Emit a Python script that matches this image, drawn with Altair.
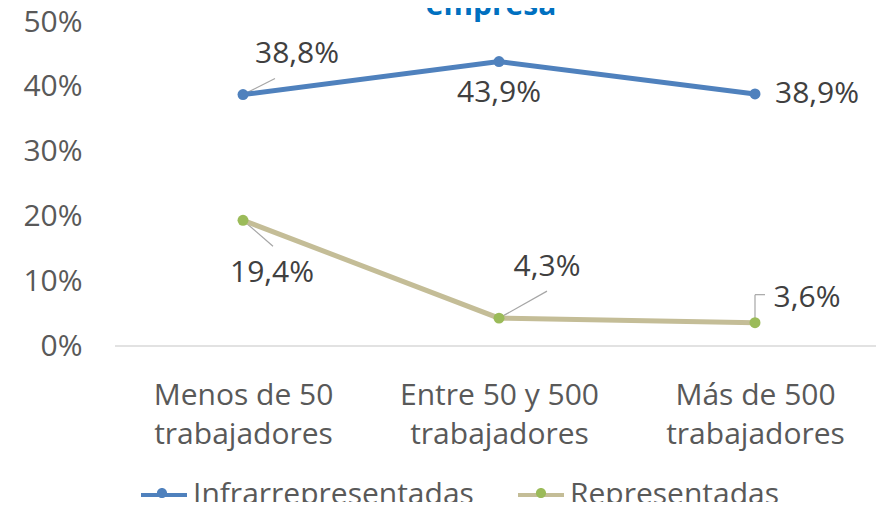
import altair as alt
import pandas as pd

categories = ["Menos de 50 trabajadores", "Entre 50 y 500 trabajadores", "Más de 500 trabajadores"]
series_names = ["Infrarrepresentadas", "Representadas"]
infra_values = [38.8, 43.9, 38.9]
repre_values = [19.4, 4.3, 3.6]
y_ticks = [0, 0.1, 0.2, 0.3, 0.4, 0.5]
title_text = "empresa"

rows = []
for s, vals in zip(series_names, [infra_values, repre_values]):
    for i, (c, v) in enumerate(zip(categories, vals)):
        rows.append({"series": s, "series_f": s, "cat": c, "idx": i, "value": v / 100.0})
df = pd.DataFrame(rows)

FONT = "Open Sans"
BLUE = "#4F81BD"
TAN = "#C4BD97"
GREEN = "#9BBB59"
FS = 30

x_enc = alt.X("cat:N", sort=categories, scale=alt.Scale(type="point", padding=0, range=[128, 640]),
              axis=alt.Axis(title=None, labelExpr="[replace(datum.label, ' trabajadores', ''), 'trabajadores']",
                            labelFontSize=FS, labelColor="#595959", labelFont=FONT, labelPadding=34,
                            labelLineHeight=39, ticks=False, domain=False, labelAngle=0, labelLimit=0))
y_enc = alt.Y("value:Q", scale=alt.Scale(domain=[0, 0.5]),
              axis=alt.Axis(title=None, format=".0%", values=y_ticks, grid=False, domain=False, ticks=False,
                            labelFontSize=FS, labelColor="#595959", labelFont=FONT, labelPadding=33))

base = alt.Chart(df).encode(x=x_enc, y=y_enc)

baseline_rule = alt.Chart(pd.DataFrame({"v": [0.0]})).mark_rule(color="#D9D9D9", strokeWidth=1.3).encode(
    y=alt.Y("v:Q", scale=alt.Scale(domain=[0, 0.5]))
)

common = dict(title=None, orient="none", legendX=24, legendY=448, direction="horizontal",
              symbolSize=2116, labelFontSize=FS, labelFont=FONT, labelColor="#595959",
              labelOffset=4, symbolOpacity=1, labelLimit=0)

line_legend = alt.Legend(symbolType="M-1,0H1", symbolStrokeWidth=4, columnPadding=36, **common)
dot_legend = alt.Legend(symbolType="M-1,0L1,0M-0.22,0A0.22,0.22,0,1,1,0.22,0A0.22,0.22,0,1,1,-0.22,0",
                        symbolStrokeWidth=0, labelOpacity=0, zindex=2, columnPadding=48, **common)

lines = base.mark_line(strokeWidth=5).encode(
    stroke=alt.Stroke("series:N", scale=alt.Scale(range=[BLUE, TAN]), legend=line_legend)
)
points = base.mark_point(filled=True, size=120, opacity=1, shape="circle").encode(
    fill=alt.Fill("series_f:N", scale=alt.Scale(range=[BLUE, GREEN]), legend=dot_legend)
)

lab = base.transform_calculate(
    label="replace(format(datum.value * 100, '.1f'), '.', ',') + '%'"
)

def label_layer(series, idx, dx, dy):
    return lab.transform_filter(
        (alt.datum.series == series) & (alt.datum.idx == idx)
    ).mark_text(fontSize=FS, font=FONT, color="#404040", dx=dx, dy=dy, align="center",
                baseline="middle").encode(text="label:N")

texts = [
    label_layer("Infrarrepresentadas", 0, 54, -41),
    label_layer("Infrarrepresentadas", 1, 0, 31),
    label_layer("Infrarrepresentadas", 2, 62, 0),
    label_layer("Representadas", 0, 29, 53),
    label_layer("Representadas", 1, 48, -51),
    label_layer("Representadas", 2, 52, -25),
]

def leader(series, idx, x2o, y2o, yo=0):
    return base.transform_filter(
        (alt.datum.series == series) & (alt.datum.idx == idx)
    ).mark_rule(color="#A6A6A6", strokeWidth=1.2, yOffset=yo, x2Offset=x2o, y2Offset=y2o).encode(
        x2="cat:N", y2="value:Q"
    )

leaders = [
    leader("Infrarrepresentadas", 0, 32, -16),
    leader("Representadas", 0, 30, 26),
    leader("Representadas", 1, 48, -27),
    leader("Representadas", 2, 0, -28),
    leader("Representadas", 2, 10, -28, yo=-28),
]

title = alt.Chart(pd.DataFrame({"t": [title_text]})).mark_text(
    fontSize=30, font=FONT, fontWeight="bold", color="#0070C0", align="center", baseline="alphabetic"
).encode(text="t:N", x=alt.value(376), y=alt.value(-7))

chart = alt.layer(baseline_rule, *leaders, lines, points, *texts, title).properties(
    width=761, height=324,
    autosize=alt.AutoSizeParams(type="none"),
    padding={"left": 107, "top": 14, "right": 0, "bottom": 156},
).configure_view(stroke=None).resolve_legend(fill="independent", stroke="independent")

chart.save("out.html", embed_options={"renderer": "svg", "actions": False})
